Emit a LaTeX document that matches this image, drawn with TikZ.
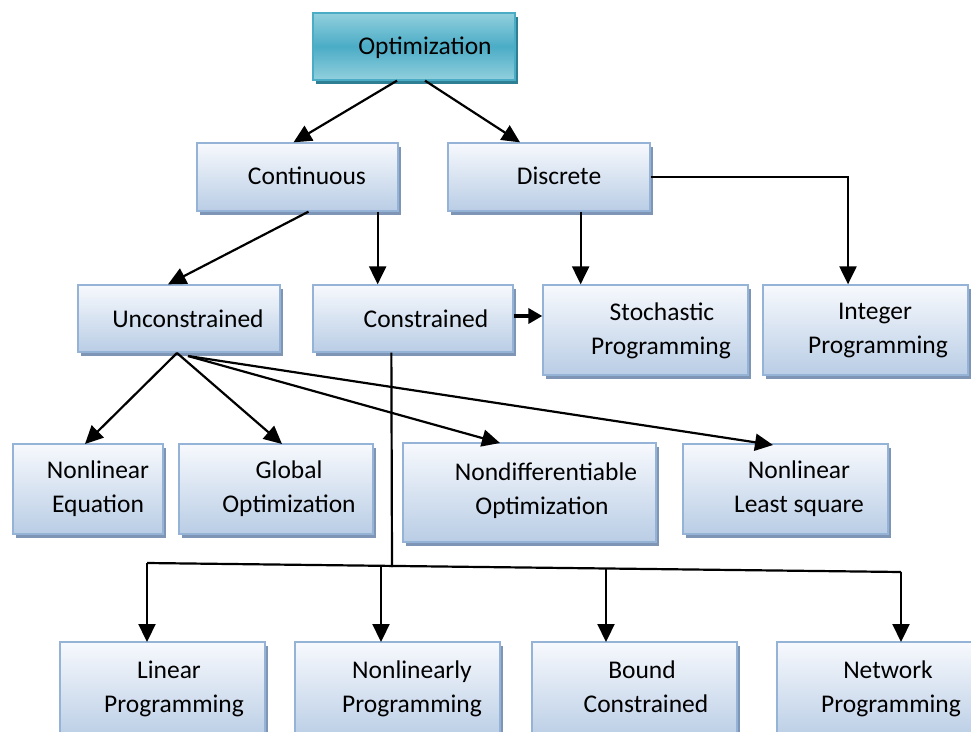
\documentclass[tikz,border=0pt]{standalone}
\usepackage{fontspec}
\setmainfont{Carlito}
\usetikzlibrary{arrows.meta,shadows}
\definecolor{bxtop}{HTML}{F7F9FD}
\definecolor{bxbot}{HTML}{B9CDE5}
\definecolor{bxline}{HTML}{95B3D7}
\definecolor{bxshadow}{HTML}{7F95B5}
\definecolor{tealmid}{HTML}{4BACC6}
\definecolor{tealedge}{HTML}{92D0DD}
\definecolor{tealline}{HTML}{4BACC6}
\definecolor{tealshadow}{HTML}{2E7F94}
\tikzset{
  bx/.style={draw=bxline, line width=1.3pt, top color=bxtop, bottom color=bxbot,
    drop shadow={shadow xshift=3pt, shadow yshift=-4pt, fill=bxshadow, opacity=1},
    inner sep=0pt, rectangle},
  topbx/.style={draw=tealline, line width=1.3pt, top color=tealedge, bottom color=tealedge, middle color=tealmid,
    drop shadow={shadow xshift=3pt, shadow yshift=-4pt, fill=tealshadow, opacity=1},
    inner sep=0pt, rectangle},
  txt/.style={font=\fontsize{25.5}{34}\selectfont, align=center, inner sep=0pt, text=black},
  arr/.style={-{Triangle[length=18pt,width=17pt]}, line width=2.2pt, black},
  ln/.style={line width=2.2pt, black},
}
\newcommand{\bxat}[6]{% name, x1, y1, x2, y2, style
  \node[#6, minimum width={#4-#2}, minimum height={#5-#3}] (#1) at ({(#2+#4)/2},{(#3+#5)/2}) {};}
\begin{document}
\begin{tikzpicture}[x=1pt,y=-1pt]
\useasboundingbox (0,0) rectangle (971,731);
% boxes
\bxat{opt}{313}{13}{515}{80}{topbx}
\bxat{cont}{197}{143}{398}{211}{bx}
\bxat{disc}{448}{143}{650}{211}{bx}
\bxat{unc}{78}{285}{280}{352}{bx}
\bxat{con}{313}{285}{513}{352}{bx}
\bxat{sto}{543}{285}{748}{375}{bx}
\bxat{int}{763}{285}{968}{375}{bx}
\bxat{neq}{13}{444}{163}{534}{bx}
\bxat{glo}{179}{444}{373}{534}{bx}
\bxat{ndo}{403}{443}{656}{542}{bx}
\bxat{nls}{683}{444}{888}{534}{bx}
\bxat{lp}{60}{642}{265}{740}{bx}
\bxat{nlp}{295}{642}{500}{740}{bx}
\bxat{bc}{532}{642}{737}{740}{bx}
\bxat{np}{777}{642}{980}{740}{bx}
% texts
\node[txt] (optT) at (425,48) {Optimization};
\node[txt] (contT) at (307,178) {Continuous\vphantom{p}};
\node[txt] (discT) at (559,178) {Discrete\vphantom{p}};
\node[txt] (uncT) at (188,321) {Unconstrained\vphantom{p}};
\node[txt] (conT) at (426,321) {Constrained\vphantom{p}};
\node[txt] (stoT) at (661,331) {\hspace*{2pt}Stochastic\\Programming};
\node[txt] (intT) at (878,331) {\hspace*{-6pt}Integer\\Programming};
\node[txt] (neqT) at (98,489) {Nonlinear\\Equation};
\node[txt] (gloT) at (289,489) {Global\\Optimization};
\node[txt] (ndoT) at (546,491) {Nondifferentiable\\\hspace*{-8pt}Optimization};
\node[txt] (nlsT) at (799,489) {Nonlinear\\Least square};
\node[txt] (lpT) at (174,689) {\hspace*{-10pt}Linear\\Programming};
\node[txt] (nlpT) at (412,689) {Nonlinearly\\Programming};
\node[txt] (bcT) at (646,689) {\hspace*{-8pt}Bound\\Constrained\vphantom{g}};
\node[txt] (npT) at (891,689) {\hspace*{-6pt}Network\\Programming};
% connectors
\draw[arr] ([xshift=-17pt]opt.south) -- ([xshift=-4pt]cont.north);
\draw[arr] ([xshift=11pt]opt.south) -- ([xshift=-29pt]disc.north);
\draw[arr] ([xshift=11pt]cont.south) -- ([xshift=-11pt]unc.north);
\draw[arr] ([xshift=-21pt]cont.south east) -- ([xshift=-21pt]cont.south east |- con.north);
\draw[arr] ([xshift=-70pt]disc.south east) -- ([xshift=-70pt]disc.south east |- sto.north);
\draw[ln] (disc.east) -| (848,230);
\draw[arr] (848,230) -- (848,230 |- int.north);
\draw[-{Triangle[length=14pt,width=15pt]}, line width=4pt] (con.east |- 0,316) -- (sto.west |- 0,316);
\coordinate (u1) at (177,353);
\coordinate (u2) at (188,356);
\draw[arr] (u1) -- (85,444);
\draw[arr] (u1) -- (282,444);
\draw[arr] (u2) -- (500,443);
\draw[arr] (u2) -- (773,445);
\coordinate (cb) at (392,567);
\draw[ln] ([xshift=79pt]con.south west) -- (cb);
\draw[ln] (147,563) -- (901,572);
\draw[arr] (147,563) -- (147,642);
\draw[arr] (381,566) -- (381,642);
\draw[arr] (606,569) -- (606,642);
\draw[arr] (901,572) -- (901,642);
\end{tikzpicture}
\end{document}
